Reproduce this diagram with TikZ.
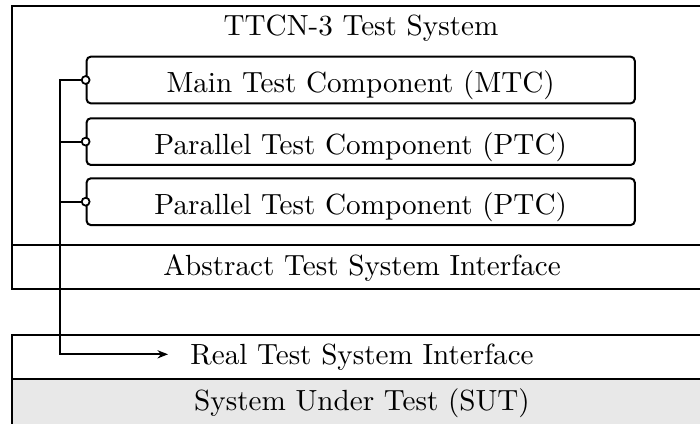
\documentclass[tikz,border=0pt]{standalone}
\usetikzlibrary{arrows.meta}
\begin{document}
\begin{tikzpicture}[x=0.343pt,y=-0.343pt,line width=0.69pt,
  outerbox/.style={draw, rectangle, minimum width=240.1pt, minimum height=82pt, inner sep=0pt},
  layer/.style={draw, rectangle, minimum width=240.1pt, minimum height=15.1pt, inner sep=0pt, text height=5.7pt, text depth=0pt},
  comp/.style={draw, rectangle, rounded corners=1.4pt, minimum width=188pt, minimum height=16pt, inner sep=0pt, text height=8.7pt, text depth=0pt},
  port/.style={draw, circle, fill=white, inner sep=0pt, minimum size=2.7pt, line width=0.6pt},
  conn/.style={draw, line width=0.69pt}]
\useasboundingbox (0,0) rectangle (700,423);
\clip (0,0) rectangle (700,423);
% layers
\node[outerbox] (ts) at (362,125.2) {};
\node[anchor=base] (tstitle) at (361,35) {TTCN-3 Test System};
\node[layer] (atsi) at (362,266.7) {Abstract Test System Interface};
\node[layer] (rtsi) at (362,356.6) {Real Test System Interface};
\node[layer, fill=gray!18, minimum height=20.6pt, text height=1.6pt] (sut) at (362,408.6) {System Under Test (SUT)};
% components
\node[comp] (mtc) at (360.7,80) {Main Test Component (MTC)};
\node[comp] (ptca) at (360.7,141.6) {Parallel Test Component (PTC)};
\node[comp] (ptcb) at (360.7,201.7) {Parallel Test Component (PTC)};
% connectors
\coordinate (bend) at (60,354.3);
\coordinate (tip) at (168,354.3);
\draw[conn, -{Stealth[length=3.6pt,width=2.8pt]}] (mtc.west) -| (bend) -- (tip);
\draw[conn] (ptca.west) -- (ptca.west -| bend);
\draw[conn] (ptcb.west) -- (ptcb.west -| bend);
\node[port] (pa) at (mtc.west) {};
\node[port] (pb) at (ptca.west) {};
\node[port] (pc) at (ptcb.west) {};
\end{tikzpicture}
\end{document}
